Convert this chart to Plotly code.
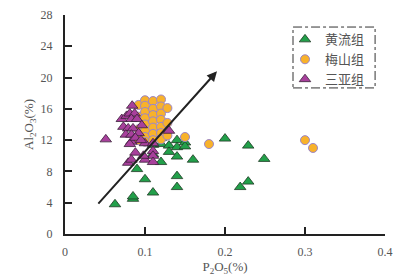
import plotly.graph_objects as go

# 黄流组 (green triangles)
hl_x = [0.0625, 0.085, 0.085, 0.09, 0.10, 0.11, 0.11, 0.11, 0.12, 0.12, 0.12, 0.13, 0.13,
        0.14, 0.14, 0.14, 0.14, 0.14, 0.15, 0.15, 0.16, 0.20, 0.229, 0.249, 0.219, 0.229]
hl_y = [3.8, 4.5, 4.8, 8.3, 7.0, 5.3, 11.4, 10.2, 11.5, 9.2, 12.3, 11.3, 10.5,
        12.0, 11.1, 9.9, 7.4, 6.0, 11.7, 11.2, 9.5, 12.2, 11.3, 9.6, 6.0, 6.7]

# 梅山组 (orange circles)
ms_x = [0.092, 0.092, 0.092, 0.092,
        0.10, 0.10, 0.10, 0.10, 0.10, 0.10, 0.10, 0.10,
        0.11, 0.11, 0.11, 0.11, 0.11, 0.11, 0.11,
        0.12, 0.12, 0.12, 0.12, 0.12, 0.12, 0.12,
        0.128, 0.128, 0.128,
        0.15, 0.18, 0.30, 0.31]
ms_y = [16.5, 15.0, 13.4, 12.0,
        17.1, 16.4, 15.6, 14.8, 14.0, 13.2, 12.4, 11.8,
        17.0, 16.0, 15.2, 14.4, 13.6, 12.8, 12.0,
        17.2, 16.3, 15.4, 14.6, 13.7, 12.9, 12.1,
        16.1, 14.2, 12.6,
        12.4, 11.5, 12.0, 11.0]

# 三亚组 (purple triangles)
sy_x = [0.051, 0.084, 0.071, 0.077, 0.081, 0.087, 0.083, 0.090, 0.073, 0.079, 0.085,
        0.076, 0.083, 0.092, 0.083, 0.096, 0.081, 0.088, 0.079, 0.100, 0.110, 0.110,
        0.110, 0.083, 0.098, 0.100, 0.110, 0.130, 0.088, 0.095]
sy_y = [12.1, 16.4, 14.7, 15.1, 15.4, 15.4, 14.7, 14.7, 13.7, 13.5, 13.5,
        12.7, 12.7, 12.9, 11.8, 13.9, 11.5, 10.4, 9.1, 9.5, 10.6, 10.0,
        9.2, 9.5, 10.0, 11.6, 11.6, 13.2, 12.3, 12.0]

x_ticks = [0, 0.1, 0.2, 0.3, 0.4]
x_tick_text = ["0", "0.1", "0.2", "0.3", "0.4"]
y_ticks = [0, 4, 8, 12, 16, 20, 24, 28]

fig = go.Figure()
fig.add_trace(go.Scatter(
    x=hl_x, y=hl_y, mode="markers", name="黄流组",
    marker=dict(symbol="triangle-up", size=10, color="#22a04a",
                line=dict(color="#1f3a25", width=0.8))))
fig.add_trace(go.Scatter(
    x=ms_x, y=ms_y, mode="markers", name="梅山组",
    marker=dict(symbol="circle", size=9, color="#f8b22a",
                line=dict(color="#9c86c8", width=1))))
fig.add_trace(go.Scatter(
    x=sy_x, y=sy_y, mode="markers", name="三亚组",
    marker=dict(symbol="triangle-up", size=10, color="#a8409c",
                line=dict(color="#3a1f38", width=0.8))))

fig.add_annotation(x=0.19, y=20.8, ax=0.04, ay=3.7, xref="x", yref="y",
                   axref="x", ayref="y", showarrow=True, arrowhead=2,
                   arrowsize=1, arrowwidth=2, arrowcolor="#222222", text="")

# legend frame (dash-dot)
fig.add_shape(type="rect", xref="paper", yref="paper",
              x0=0.7125, x1=0.969, y0=0.667, y1=0.945,
              line=dict(color="#333333", width=1, dash="dashdot"))

tick_font = dict(family="Liberation Serif", size=12, color="#555555")
fig.update_layout(
    width=400, height=268,
    margin=dict(l=57, r=23, t=7, b=42),
    paper_bgcolor="white", plot_bgcolor="white",
    showlegend=True,
    legend=dict(x=0.6875, y=0.957, xanchor="left", yanchor="top",
                bgcolor="rgba(0,0,0,0)", borderwidth=0,
                font=dict(family="Noto Sans CJK SC", size=13, color="#555555"),
                itemwidth=30, tracegroupgap=0),
    xaxis=dict(range=[0, 0.4], tickvals=x_ticks, ticktext=x_tick_text,
               ticks="inside", ticklen=7, tickwidth=2, tickcolor="#222222",
               showline=True, linecolor="#222222", linewidth=2,
               showgrid=False, zeroline=False, tickfont=tick_font,
               ticklabelstandoff=6, automargin=False,
               title=dict(text="P<sub>2</sub>O<sub>5</sub>(%)", standoff=4,
                          font=dict(family="Liberation Serif", size=13, color="#555555"))),
    yaxis=dict(range=[0, 28], tickvals=y_ticks,
               ticks="inside", ticklen=7, tickwidth=2, tickcolor="#222222",
               showline=True, linecolor="#222222", linewidth=2,
               showgrid=False, zeroline=False, tickfont=tick_font,
               ticklabelstandoff=8, automargin=False,
               title=dict(text="Al<sub>2</sub>O<sub>3</sub>(%)", standoff=4,
                          font=dict(family="Liberation Serif", size=13, color="#555555"))),
)

fig.write_html("out.html")
